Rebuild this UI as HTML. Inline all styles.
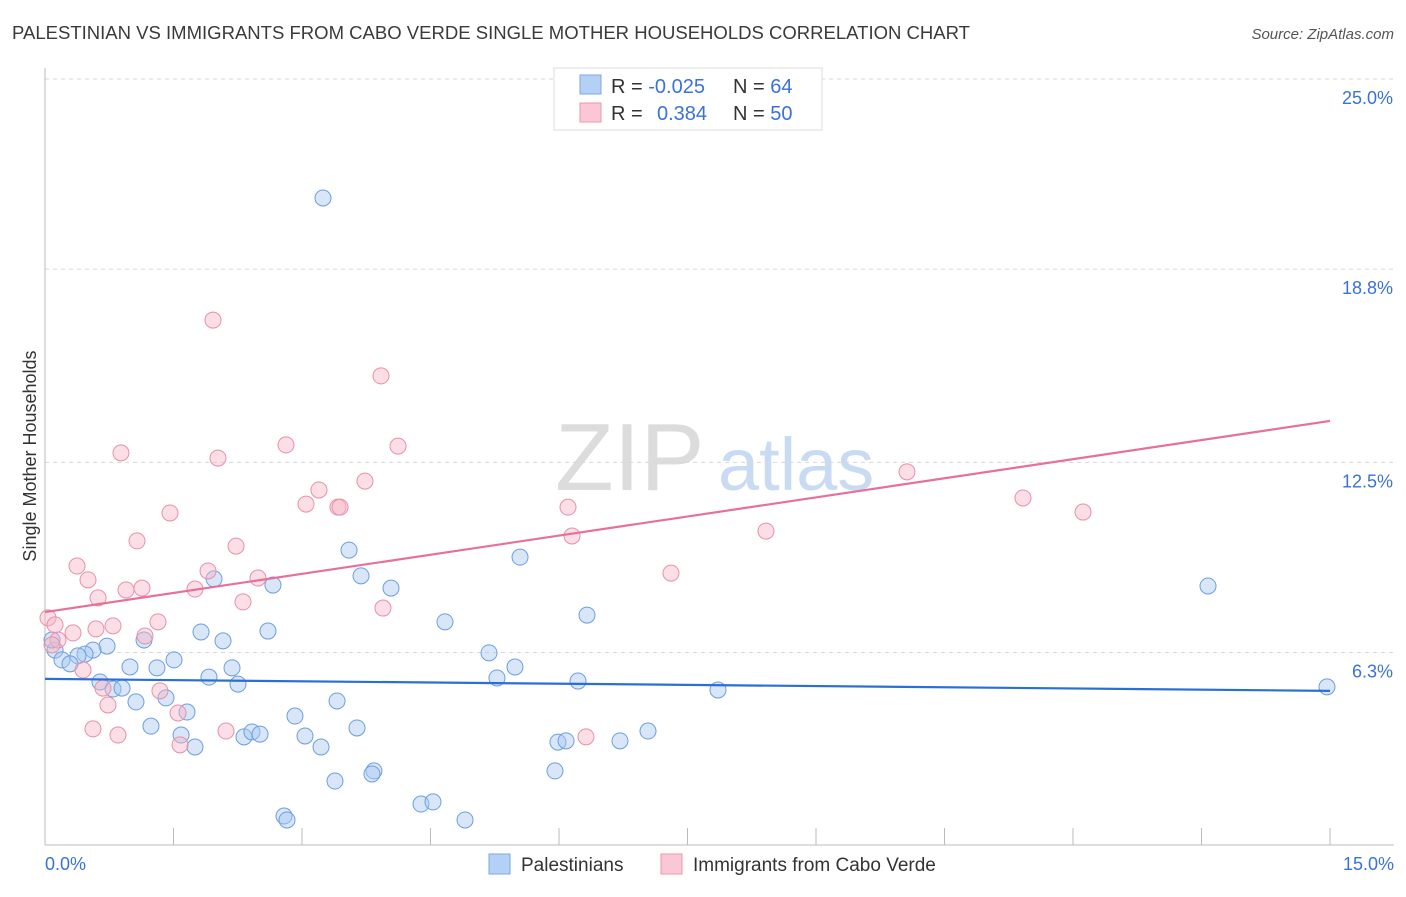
<!DOCTYPE html>
<html><head><meta charset="utf-8">
<style>
body{margin:0;background:#fff;font-family:"Liberation Sans",sans-serif;}
svg text{font-family:"Liberation Sans",sans-serif;}
</style></head>
<body>
<svg id="chart" width="1406" height="892" viewBox="0 0 1406 892">
<text x="12" y="39" font-size="18" fill="#3a3a3a" textLength="958" lengthAdjust="spacingAndGlyphs">PALESTINIAN VS IMMIGRANTS FROM CABO VERDE SINGLE MOTHER HOUSEHOLDS CORRELATION CHART</text>
<text x="1394" y="39" font-size="15" fill="#555" font-style="italic" text-anchor="end">Source: ZipAtlas.com</text>
<g>
<text x="555" y="490" font-size="96" fill="#dcdcdc" font-family="Liberation Serif,serif">ZIP</text>
<text x="718" y="490" font-size="74" fill="#c9dbf3">atlas</text>
</g>
<g id="grid"></g>
<g id="axes"></g>
<g id="pts"></g>
<g id="trend"></g>
<text x="36" y="456" font-size="18" fill="#333" transform="rotate(-90 36 456)" text-anchor="middle">Single Mother Households</text>
<g>
<rect x="554" y="68" width="268" height="62" fill="#fff" stroke="#ddd"/>
<rect x="580" y="75" width="21" height="19" fill="#b5d0f5" stroke="#7aa7e3"/>
<text x="611" y="93" font-size="20" fill="#333">R = <tspan fill="#3a72d8">-0.025</tspan></text>
<text x="733" y="93" font-size="20" fill="#333">N = <tspan fill="#3a72d8">64</tspan></text>
<rect x="580" y="103" width="21" height="19" fill="#fbc6d5" stroke="#ec97b0"/>
<text x="611" y="120" font-size="20" fill="#333">R = <tspan fill="#3a72d8" x="657">0.384</tspan></text>
<text x="733" y="120" font-size="20" fill="#333">N = <tspan fill="#3a72d8">50</tspan></text>
</g>
<g>
<rect x="489" y="854" width="21" height="20" fill="#b5d0f5" stroke="#7aa7e3"/>
<text x="521" y="871" font-size="19" fill="#333">Palestinians</text>
<rect x="661" y="854" width="21" height="20" fill="#fbc6d5" stroke="#ec97b0"/>
<text x="693" y="871" font-size="19" fill="#333">Immigrants from Cabo Verde</text>
</g>
</svg>
<script>
const yTicks=[25.0,18.8,12.5,6.3];
const yTickLabels=["25.0%","18.8%","12.5%","6.3%"];
const xTickLabels=["0.0%","15.0%"];
const blueX=[3.245,3.549,5.545,3.689,4.039,2.661,1.973,13.576,6.327,4.669,2.603,1.821,2.078,1.156,0.724,0.560,0.467,0.385,0.117,0.082,0.198,0.292,5.183,5.486,0.992,1.307,1.506,2.183,1.914,2.253,6.222,5.276,7.856,14.965,0.642,0.794,0.899,1.062,1.412,3.409,1.658,2.918,1.237,1.588,2.323,2.416,2.510,3.035,3.642,3.222,1.751,5.988,6.082,6.712,7.039,3.840,3.817,3.385,5.953,4.389,4.529,2.790,2.825,4.903];
const blueY=[21.12,9.64,9.41,8.80,8.40,8.50,8.70,8.47,7.52,7.30,7.00,6.97,6.68,6.71,6.51,6.38,6.25,6.19,6.38,6.71,6.06,5.93,6.29,5.83,5.83,5.80,6.06,5.80,5.50,5.27,5.37,5.47,5.08,5.18,5.34,5.11,5.14,4.69,4.82,4.72,4.36,4.23,3.90,3.61,3.55,3.71,3.64,3.58,3.84,3.22,3.22,3.38,3.42,3.42,3.74,2.44,2.34,2.11,2.44,1.36,1.43,0.97,0.84,0.84];
const pinkX=[1.961,3.922,4.121,2.813,0.887,2.019,3.735,3.198,3.047,3.420,3.444,1.459,6.105,10.062,11.416,12.117,8.416,1.074,2.230,6.152,0.374,0.502,1.903,2.486,0.619,0.946,1.132,1.751,2.311,3.945,7.307,0.035,0.794,1.319,0.595,0.327,1.167,0.152,0.082,0.444,0.677,1.342,0.735,1.553,0.560,0.852,1.576,2.113,6.315,0.117];
const pinkY=[17.14,15.32,13.03,13.07,12.81,12.64,11.89,11.60,11.14,11.04,11.04,10.85,11.04,12.19,11.34,10.88,10.26,9.94,9.77,10.10,9.12,8.67,8.96,8.73,8.08,8.34,8.40,8.37,7.95,7.75,8.89,7.43,7.17,7.30,7.07,6.94,6.84,6.71,6.55,5.73,5.14,5.05,4.59,4.33,3.81,3.61,3.29,3.74,3.55,7.20];
const blueTrend=[5.44,5.05];
const pinkTrend=[7.62,13.85];

const NS="http://www.w3.org/2000/svg";
const sx=v=>45+v*(1285/15);
const sy=v=>79+(25-v)*30.67;
function mk(tag,attrs,parent){const e=document.createElementNS(NS,tag);for(const k in attrs)e.setAttribute(k,attrs[k]);document.getElementById(parent).appendChild(e);return e;}
yTicks.forEach((t,i)=>{
 const l=mk('line',{x1:45,x2:1394,y1:sy(t),y2:sy(t),stroke:'#d8d8d8','stroke-dasharray':'4 4'},'grid');
 
 
 const tx=mk('text',{x:1393,y:sy(t)+25,'font-size':18,fill:'#3a72d8','text-anchor':'end'},'grid');
 tx.textContent=yTickLabels[i];
 
 
});
let a=mk('line',{x1:45,x2:45,y1:68,y2:845,stroke:'#bbb'},'axes');


a=mk('line',{x1:45,x2:1394,y1:845,y2:845,stroke:'#bbb'},'axes');


for(let i=1;i<=10;i++){const t=mk('line',{x1:sx(i*1.5),x2:sx(i*1.5),y1:828,y2:845,stroke:'#bbb'},'axes');
 
 }
[[0,45,'start'],[15,1394,'end']].forEach((d,i)=>{const t=mk('text',{x:d[1],y:870,'font-size':18,fill:'#3a72d8','text-anchor':d[2]},'axes');t.textContent=xTickLabels[i];
 
 });
function pts(X,Y,fill,stroke,name){X.forEach((x,i)=>{const c=mk('circle',{cx:sx(x),cy:sy(Y[i]),r:8,fill:fill,'fill-opacity':0.45,stroke:stroke,'stroke-width':1},'pts');
 
 });}
pts(blueX,blueY,'#a8c8f0','#6a9fe0','palestinian-point');
pts(pinkX,pinkY,'#f6b5c8','#e890a8','cabo-verde-point');
let t=mk('line',{x1:sx(0),y1:sy(blueTrend[0]),x2:sx(15),y2:sy(blueTrend[1]),stroke:'#2a6fd6','stroke-width':2.2},'trend');


t=mk('line',{x1:sx(0),y1:sy(pinkTrend[0]),x2:sx(15),y2:sy(pinkTrend[1]),stroke:'#e6709a','stroke-width':2.2},'trend');


</script>
</body></html>
